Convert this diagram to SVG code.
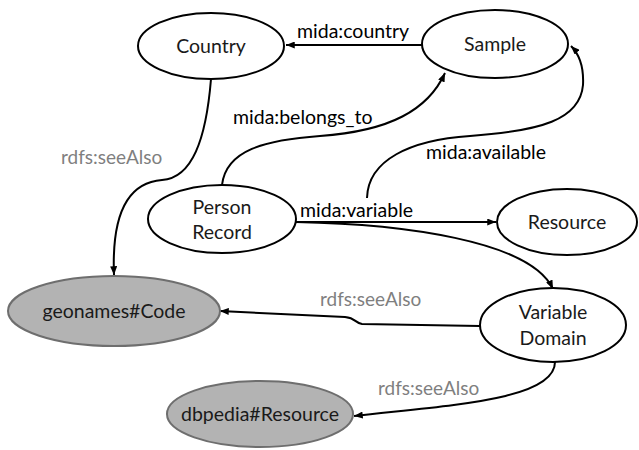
<svg xmlns="http://www.w3.org/2000/svg" width="639" height="450" viewBox="0 0 639 450">
<defs>
<style>
.n{fill:#fff;stroke:#000;stroke-width:2}
.g{fill:#b3b3b3;stroke:#6e6e6e;stroke-width:2}
.t{font-family:Lato,"Open Sans","Liberation Sans",sans-serif;font-size:19.5px;fill:#1a1a1a;text-anchor:middle}
.l{font-family:Lato,"Open Sans","Liberation Sans",sans-serif;font-size:19.5px;fill:#000}
.lg{font-family:Lato,"Open Sans","Liberation Sans",sans-serif;font-size:19px;fill:#7f7f7f}
.c{fill:none;stroke:#000;stroke-width:2}
</style>
<marker id="a" viewBox="0 0 10 8" refX="10" refY="4" markerWidth="9" markerHeight="7" orient="auto" markerUnits="userSpaceOnUse">
<path d="M0,0 L10,4 L0,8 z" fill="#000"/>
</marker>
</defs>
<rect width="639" height="450" fill="#fff"/>
<g id="connectors">
<path class="c" d="M422,45 L286,45" marker-end="url(#a)"/>
<path class="c" d="M222,185 C226,150 265,140 320,136 C390,131 428,110 445,73" marker-end="url(#a)"/>
<path class="c" d="M367,198 C368,160 410,140 470,136 C540,131 580,120 583,85 C584,65 578,53 571,46" marker-end="url(#a)"/>
<path class="c" d="M211,79 C206,140 192,178 162,180 C122,183 112,225 114,275" marker-end="url(#a)"/>
<path class="c" d="M296,222 L496,222" marker-end="url(#a)"/>
<path class="c" d="M296,222 C400,224 530,240 553,289" marker-end="url(#a)"/>
<path class="c" d="M480,326 L362,324 C355,323 356,318 345,317 L220,311" marker-end="url(#a)"/>
<path class="c" d="M555,362 C555,400 450,405 354,416" marker-end="url(#a)"/>
<text class="l" x="297" y="38">mida:country</text>
<text class="l" x="233" y="124">mida:belongs_to</text>
<text class="l" x="426" y="159">mida:available</text>
<text class="l" x="300" y="217">mida:variable</text>
<text class="lg" x="61" y="164">rdfs:seeAlso</text>
<text class="lg" x="320" y="306">rdfs:seeAlso</text>
<text class="lg" x="378" y="395">rdfs:seeAlso</text>
</g>
<g id="country"><ellipse class="n" cx="211" cy="46" rx="73" ry="33"/><text class="t" x="211" y="53">Country</text></g>
<g id="sample"><ellipse class="n" cx="495" cy="44" rx="73" ry="34"/><text class="t" x="495" y="51">Sample</text></g>
<g id="person"><ellipse class="n" cx="222" cy="219" rx="74" ry="34"/><text class="t" x="222" y="214">Person</text><text class="t" x="222" y="239">Record</text></g>
<g id="resource"><ellipse class="n" cx="567" cy="222" rx="70" ry="33"/><text class="t" x="567" y="229">Resource</text></g>
<g id="variable-domain"><ellipse class="n" cx="553" cy="325" rx="73" ry="37"/><text class="t" x="553" y="319">Variable</text><text class="t" x="553" y="345">Domain</text></g>
<g id="geonames"><ellipse class="g" cx="114" cy="311" rx="106" ry="35"/><text class="t" x="114" y="318">geonames#Code</text></g>
<g id="dbpedia"><ellipse class="g" cx="260" cy="414" rx="93" ry="33"/><text class="t" x="260" y="421">dbpedia#Resource</text></g>
</svg>
